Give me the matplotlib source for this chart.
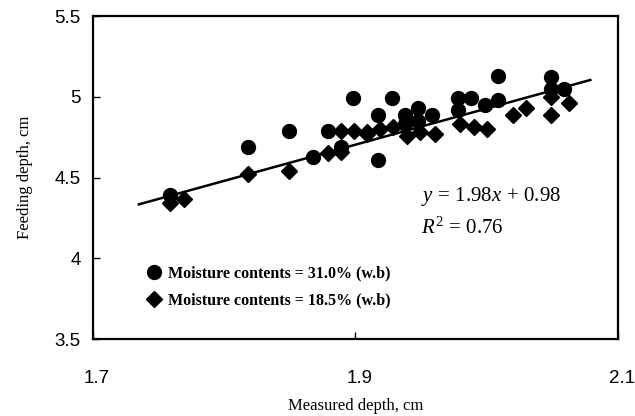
import numpy as np
import matplotlib
matplotlib.use("Agg")
import matplotlib.pyplot as plt
from matplotlib.transforms import ScaledTranslation

plt.rcParams["mathtext.fontset"] = "custom"
plt.rcParams["mathtext.rm"] = "Liberation Serif"
plt.rcParams["mathtext.it"] = "Liberation Serif:italic"

# moisture content 31.0% (w.b)
x_wet = [1.759, 1.818, 1.849, 1.868, 1.879, 1.889, 1.898, 1.917, 1.917, 1.928,
         1.938, 1.938, 1.948, 1.948, 1.958, 1.978, 1.978, 1.988, 1.999, 2.009,
         2.009, 2.049, 2.049, 2.059]
y_wet = [4.39, 4.69, 4.79, 4.63, 4.79, 4.69, 4.99, 4.89, 4.61, 4.99,
         4.89, 4.83, 4.93, 4.85, 4.89, 4.99, 4.92, 4.99, 4.95, 5.13,
         4.98, 5.12, 5.05, 5.05]

# moisture content 18.5% (w.b)
x_dry = [1.759, 1.769, 1.818, 1.849, 1.879, 1.889, 1.889, 1.899, 1.909, 1.909,
         1.919, 1.929, 1.939, 1.949, 1.961, 1.980, 1.990, 2.000, 2.020, 2.030,
         2.049, 2.049, 2.063]
y_dry = [4.34, 4.37, 4.52, 4.54, 4.65, 4.79, 4.66, 4.79, 4.77, 4.78,
         4.80, 4.81, 4.76, 4.78, 4.77, 4.83, 4.81, 4.80, 4.89, 4.93,
         4.89, 5.00, 4.96]

# regression line end points
fit_x = [1.735, 2.079]
fit_y = [4.334, 5.104]

fig = plt.figure(figsize=(6.35, 4.16), dpi=100)
ax = fig.add_axes([0.1465, 0.185, 0.8265, 0.7765])

ax.plot(fit_x, fit_y, color="black", lw=1.8, zorder=2)
ax.plot(x_wet, y_wet, "o", color="black", ms=10, ls="none", zorder=3,
        label="Moisture contents = 31.0% (w.b)")
ax.plot(x_dry, y_dry, "D", color="black", ms=8, ls="none", zorder=3,
        label="Moisture contents = 18.5% (w.b)")

ax.set_xlim(1.7, 2.1)
ax.set_ylim(3.5, 5.5)
ax.set_xticks([1.7, 1.9, 2.1])
ax.set_xticklabels(["1.7", "1.9", "2.1"])
ax.set_yticks([3.5, 4, 4.5, 5, 5.5])
ax.set_yticklabels(["3.5", "4", "4.5", "5", "5.5"])
ax.tick_params(direction="in", length=5, width=1, labelsize=13.5)
ax.tick_params(axis="y", pad=9)
ax.tick_params(axis="x", pad=22)
shift = ScaledTranslation(4 / 100, 0, fig.dpi_scale_trans)
for lab in ax.get_xticklabels():
    lab.set_family("Liberation Sans")
    lab.set_transform(lab.get_transform() + shift)
for lab in ax.get_yticklabels():
    lab.set_family("Liberation Sans")
for sp in ax.spines.values():
    sp.set_linewidth(1.6)

ax.set_xlabel("Measured depth, cm", family="Liberation Serif", fontsize=12, labelpad=8)
ax.set_ylabel("Feeding depth, cm", family="Liberation Serif", fontsize=12, labelpad=15)

ax.text(0.625, 0.44, r"$y\,=\,1.98x\,+\,0.98$", transform=ax.transAxes,
        fontsize=15, va="center")
ax.text(0.625, 0.345, r"$R^2\,=\,0.76$", transform=ax.transAxes,
        fontsize=15, va="center")

leg = ax.legend(loc="lower left", bbox_to_anchor=(0.07, 0.05), frameon=False,
                prop={"family": "Liberation Serif", "weight": "bold", "size": 11.5},
                handletextpad=0.3, labelspacing=0.7, handlelength=1.2)

fig.savefig("out.png", dpi=100)
